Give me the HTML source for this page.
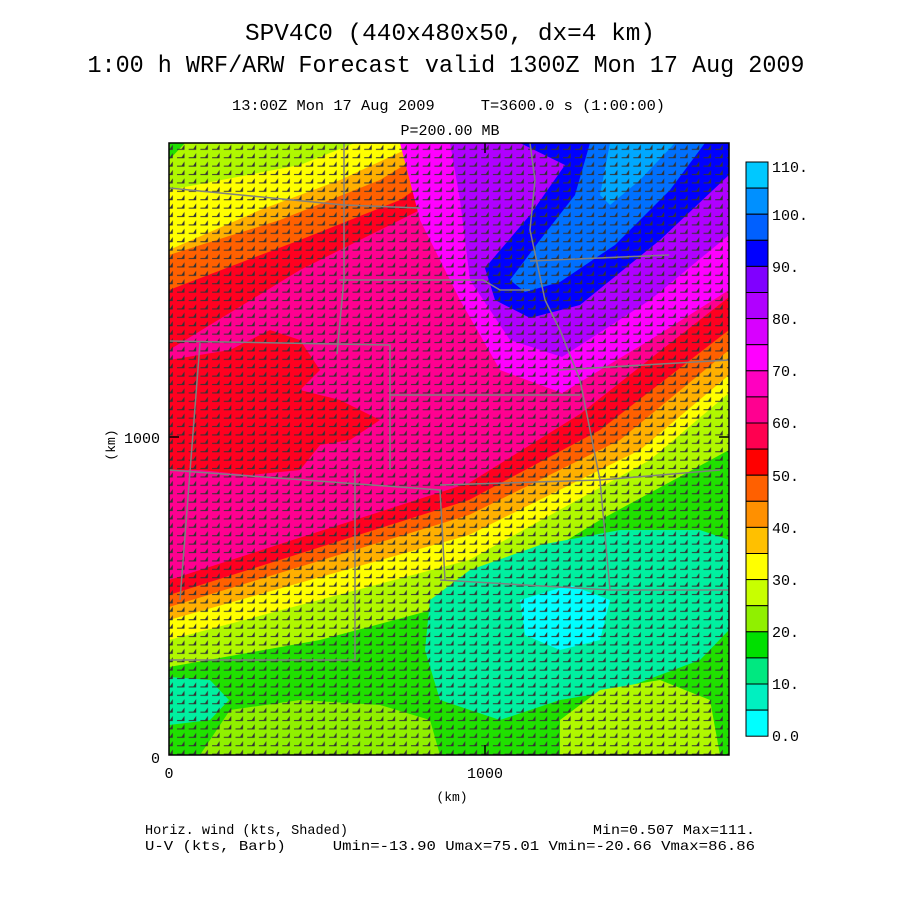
<!DOCTYPE html>
<html><head><meta charset="utf-8"><style>html,body{margin:0;padding:0;background:#fff}svg{display:block}text{white-space:pre}</style></head>
<body>
<svg width="900" height="900" viewBox="0 0 900 900" xmlns="http://www.w3.org/2000/svg" font-family="Liberation Mono, monospace" xml:space="preserve">
<defs>
<pattern id="barb" width="11.7" height="8.4" patternUnits="userSpaceOnUse">
<path d="M1.5,6.5 L8.5,6.5 L8.5,3.5 L6.5,6.5 Z" stroke="#333" stroke-width="1" fill="#333"/>
</pattern>
<clipPath id="pc"><rect x="169" y="143" width="560" height="612"/></clipPath>
</defs>
<g font-size="24" text-anchor="middle" fill="#000">
<text x="450" y="40" textLength="410" lengthAdjust="spacingAndGlyphs">SPV4C0 (440x480x50, dx=4 km)</text>
<text x="446" y="72" textLength="717" lengthAdjust="spacingAndGlyphs">1:00 h WRF/ARW Forecast valid 1300Z Mon 17 Aug 2009</text>
</g>
<text x="232" y="110" font-size="15" textLength="433" lengthAdjust="spacingAndGlyphs">13:00Z Mon 17 Aug 2009     T=3600.0 s (1:00:00)</text>
<text x="450" y="135" font-size="15" text-anchor="middle">P=200.00 MB</text>

<g clip-path="url(#pc)">
<rect x="169" y="143" width="560" height="612" fill="#ff0090"/>
<polygon points="169,143 530,143 440,200 300,270 169,350" fill="#ff0020"/>
<polygon points="169,143 483,143 400,200 300,240 169,290" fill="#ff6000"/>
<polygon points="169,143 440,143 380,180 280,220 169,255" fill="#ffb000"/>
<polygon points="169,143 420,143 340,180 260,210 169,250" fill="#ffff00"/>
<polygon points="169,143 355,143 300,165 169,190" fill="#b0f800"/>
<polygon points="169,143 185,143 169,160" fill="#20e000"/>
<polygon points="169,360 230,350 270,330 300,340 320,370 300,390 340,400 380,420 350,440 320,445 300,470 250,475 200,470 169,470" fill="#ff0020"/>
<polygon points="400,143 729,143 729,290 650,340 562,393 500,370 460,300 420,220" fill="#ff00ff"/>
<polygon points="450,143 729,143 729,235 650,300 562,357 510,340 470,280 460,200" fill="#b000ff"/>
<polygon points="520,143 729,143 729,175 660,240 580,305 530,318 495,300 485,268 530,215 565,165" fill="#0000ff"/>
<polygon points="590,143 705,143 670,190 615,245 560,282 525,292 510,280 540,240 575,195" fill="#0070ff"/>
<polygon points="610,143 675,143 640,180 610,205 600,195" fill="#00a8ff"/>
<polygon points="169,580 469,483 580,414 729,297 729,755 169,755" fill="#ff0020"/>
<polygon points="169,595 469,500 600,430 729,330 729,755 169,755" fill="#ff6000"/>
<polygon points="169,607 469,515 620,440 729,350 729,755 169,755" fill="#ffb000"/>
<polygon points="169,620 469,535 640,450 729,375 729,755 169,755" fill="#ffff00"/>
<polygon points="169,640 469,560 650,460 729,393 729,755 169,755" fill="#b0f800"/>
<polygon points="169,667 320,640 469,600 600,520 729,450 729,755 169,755" fill="#20e000"/>
<polygon points="169,677 210,680 229,700 210,720 169,725" fill="#00f0a0"/>
<polygon points="230,710 300,700 380,705 430,720 440,755 200,755" fill="#90f000"/>
<polygon points="430,600 470,570 540,545 620,530 700,530 729,540 729,630 700,660 620,690 560,700 500,720 440,700 425,650" fill="#00f0a0"/>
<polygon points="520,600 570,585 610,600 600,640 560,650 525,635" fill="#00ffff"/>
<polygon points="560,720 600,690 660,680 710,700 720,755 560,755" fill="#b0f800"/>
<rect x="169" y="143" width="560" height="612" fill="url(#barb)"/>
<g stroke="#808080" stroke-width="1.5" fill="none">
<polyline points="344,143 344,279 337,354"/>
<polyline points="169,188 344,205 420,208"/>
<polyline points="339,280 483,280 500,290 530,290"/>
<polyline points="530,261 669,255"/>
<polyline points="169,341 390,345 390,470"/>
<polyline points="390,395 580,395"/>
<polyline points="558,370 729,360"/>
<polyline points="200,343 180,600"/>
<polyline points="169,470 440,490 445,580"/>
<polyline points="355,470 355,660 169,660"/>
<polyline points="530,143 535,180 530,230 545,300 560,330 580,380 600,480 610,590"/>
<polyline points="440,485 600,480 720,470"/>
<polyline points="440,580 610,590 729,590"/>
</g>
</g>
<rect x="169" y="143" width="560" height="612" fill="none" stroke="#000" stroke-width="1.5"/>
<g stroke="#000" stroke-width="1.5">
<line x1="485" y1="755" x2="485" y2="745"/><line x1="169" y1="437" x2="179" y2="437"/>
<line x1="485" y1="143" x2="485" y2="153"/><line x1="729" y1="437" x2="719" y2="437"/>
</g>
<g font-size="15" fill="#000">
<text x="160" y="443" text-anchor="end">1000</text>
<text x="160" y="763" text-anchor="end">0</text>
<text x="169" y="778" text-anchor="middle">0</text>
<text x="485" y="778" text-anchor="middle">1000</text>
<text x="452" y="801" text-anchor="middle" font-size="13">(km)</text>
<text transform="translate(115,445) rotate(-90)" text-anchor="middle" font-size="13">(km)</text>
</g>
<g stroke="#000" stroke-width="1">
<rect x="746" y="162" width="22" height="26.1" fill="#00c8ff"/>
<rect x="746" y="188.1" width="22" height="26.1" fill="#0090ff"/>
<rect x="746" y="214.2" width="22" height="26.1" fill="#0060ff"/>
<rect x="746" y="240.3" width="22" height="26.1" fill="#0000ff"/>
<rect x="746" y="266.4" width="22" height="26.1" fill="#8000ff"/>
<rect x="746" y="292.5" width="22" height="26.1" fill="#b000ff"/>
<rect x="746" y="318.6" width="22" height="26.1" fill="#d800ff"/>
<rect x="746" y="344.7" width="22" height="26.1" fill="#ff00ff"/>
<rect x="746" y="370.8" width="22" height="26.1" fill="#ff00c0"/>
<rect x="746" y="396.9" width="22" height="26.1" fill="#ff0090"/>
<rect x="746" y="423" width="22" height="26.1" fill="#ff0050"/>
<rect x="746" y="449.1" width="22" height="26.1" fill="#ff0000"/>
<rect x="746" y="475.2" width="22" height="26.1" fill="#ff6000"/>
<rect x="746" y="501.3" width="22" height="26.1" fill="#ff9000"/>
<rect x="746" y="527.4" width="22" height="26.1" fill="#ffc000"/>
<rect x="746" y="553.5" width="22" height="26.1" fill="#ffff00"/>
<rect x="746" y="579.6" width="22" height="26.1" fill="#c8ff00"/>
<rect x="746" y="605.7" width="22" height="26.1" fill="#90f000"/>
<rect x="746" y="631.8" width="22" height="26.1" fill="#00e000"/>
<rect x="746" y="657.9" width="22" height="26.1" fill="#00e880"/>
<rect x="746" y="684" width="22" height="26.1" fill="#00f0c0"/>
<rect x="746" y="710.1" width="22" height="26.1" fill="#00ffff"/>
</g>
<g font-size="15" fill="#000">
<text x="772" y="172">110.</text><text x="772" y="220">100.</text>
<text x="772" y="272">90.</text><text x="772" y="324">80.</text>
<text x="772" y="376">70.</text><text x="772" y="428">60.</text>
<text x="772" y="481">50.</text><text x="772" y="533">40.</text>
<text x="772" y="585">30.</text><text x="772" y="637">20.</text>
<text x="772" y="689">10.</text><text x="772" y="741">0.0</text>
</g>
<g font-size="14" fill="#000">
<text x="145" y="834" textLength="203" lengthAdjust="spacingAndGlyphs">Horiz. wind (kts, Shaded)</text>
<text x="755" y="834" text-anchor="end" textLength="162" lengthAdjust="spacingAndGlyphs">Min=0.507 Max=111.</text>
<text x="145" y="850" textLength="610" lengthAdjust="spacingAndGlyphs">U-V (kts, Barb)     Umin=-13.90 Umax=75.01 Vmin=-20.66 Vmax=86.86</text>
</g>
</svg>
</body></html>
